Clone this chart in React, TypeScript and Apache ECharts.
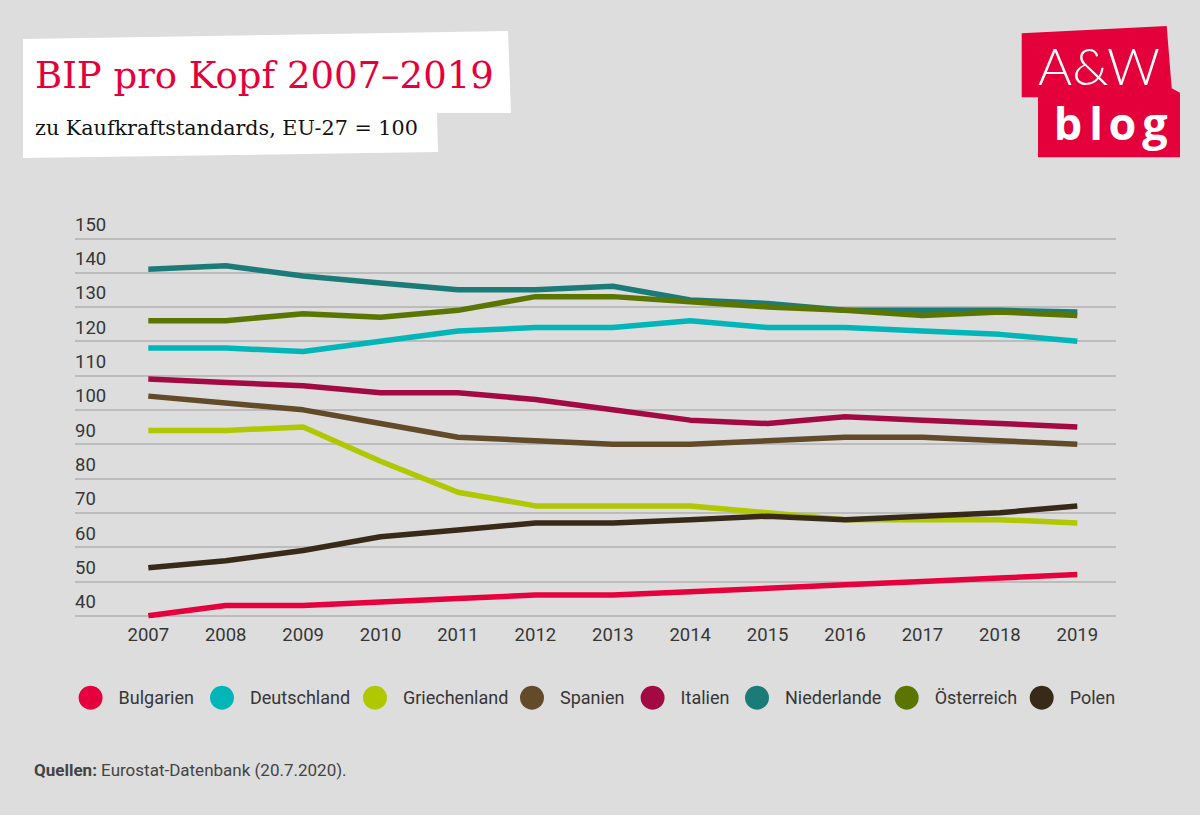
import React, { useEffect, useRef } from 'react';
import * as echarts from 'echarts';

const years = ['2007', '2008', '2009', '2010', '2011', '2012', '2013', '2014', '2015', '2016', '2017', '2018', '2019'];
const bulgarien = [40, 43, 43, 44, 45, 46, 46, 47, 48, 49, 50, 51, 52];
const deutschland = [118, 118, 117, 120, 123, 124, 124, 126, 124, 124, 123, 122, 120];
const griechenland = [94, 94, 95, 85, 76, 72, 72, 72, 70, 68, 68, 68, 67];
const spanien = [104, 102, 100, 96, 92, 91, 90, 90, 91, 92, 92, 91, 90];
const italien = [109, 108, 107, 105, 105, 103, 100, 97, 96, 98, 97, 96, 95];
const niederlande = [141, 142, 139, 137, 135, 135, 136, 132, 131, 129, 129, 129, 128.5];
const oesterreich = [126, 126, 128, 127, 129, 133, 133, 131.5, 130, 129, 127.5, 128.5, 127.5];
const polen = [54, 56, 59, 63, 65, 67, 67, 68, 69, 68, 69, 70, 72];

const seriesDefs = [
  { name: 'Bulgarien', data: bulgarien, color: '#e6003e' },
  { name: 'Deutschland', data: deutschland, color: '#00b6b9' },
  { name: 'Griechenland', data: griechenland, color: '#afc800' },
  { name: 'Spanien', data: spanien, color: '#634a28' },
  { name: 'Italien', data: italien, color: '#a30a43' },
  { name: 'Niederlande', data: niederlande, color: '#1b7b79' },
  { name: 'Österreich', data: oesterreich, color: '#5b7600' },
  { name: 'Polen', data: polen, color: '#382a19' },
];

const legendLefts = [78.6, 210, 363, 520, 640.6, 745, 894.7, 1029.7];

const SANS = "Roboto, 'Noto Sans', sans-serif";
const SERIF = "'DejaVu Serif', serif";
const TEXT = '#363636';

export default function App() {
  const ref = useRef<HTMLDivElement>(null);
  useEffect(() => {
    const chart = echarts.init(ref.current!, null, { renderer: 'svg' });
    const option: any = {
      animation: false,
      backgroundColor: '#dddddd',
      grid: [
        { left: 75, right: 84, top: 238.3, bottom: 199.3 },
        { left: 148.3, right: 122.7, top: 238.3, bottom: 199.3 },
      ],
      xAxis: [
        { gridIndex: 0, type: 'value', min: 0, max: 1, show: false },
        {
          gridIndex: 1,
          type: 'category',
          data: years,
          boundaryGap: false,
          axisLine: { show: false },
          axisTick: { show: false },
          splitLine: { show: false },
          axisLabel: { margin: 10, color: TEXT, fontSize: 18.5, fontFamily: SANS },
        },
      ],
      yAxis: [
        {
          gridIndex: 0,
          type: 'value',
          min: 40,
          max: 150,
          interval: 10,
          axisLine: { show: false },
          axisTick: { show: false },
          splitLine: { lineStyle: { color: '#bcbcbc', width: 2 } },
          axisLabel: {
            inside: true,
            margin: 0,
            align: 'left',
            verticalAlign: 'bottom',
            padding: [0, 0, 4, 0],
            color: TEXT,
            fontSize: 18.5,
            fontFamily: SANS,
          },
        },
        { gridIndex: 1, type: 'value', min: 40, max: 150, interval: 10, show: false },
      ],
      legend: seriesDefs.map((s, i) => ({
        data: [s.name],
        left: legendLefts[i],
        top: 685.7,
        padding: 0,
        itemWidth: 24,
        itemHeight: 24,
        icon: 'circle',
        textStyle: { color: TEXT, fontSize: 18, fontFamily: SANS, padding: [0, 0, 0, 11] },
      })),
      series: seriesDefs.map((s) => ({
        name: s.name,
        type: 'line',
        xAxisIndex: 1,
        yAxisIndex: 1,
        data: s.data,
        symbol: 'none',
        color: s.color,
        lineStyle: { width: 5.5, color: s.color, cap: 'butt' },
      })),
      graphic: [
        {
          type: 'polygon',
          shape: { points: [[23, 39], [508, 31], [511, 113], [437, 113], [438, 152], [23, 158]] },
          style: { fill: '#ffffff' },
        },
        {
          type: 'text',
          x: 35,
          y: 75,
          style: { text: 'BIP pro Kopf 2007–2019', fill: '#e4003a', fontFamily: SERIF, fontSize: 37, verticalAlign: 'middle' },
        },
        {
          type: 'text',
          x: 35,
          y: 128,
          style: { text: 'zu Kaufkraftstandards, EU-27 = 100', fill: '#111111', fontFamily: SERIF, fontSize: 20.7, verticalAlign: 'middle' },
        },
        {
          type: 'polygon',
          shape: {
            points: [[1021.7, 33.3], [1166.7, 26], [1171.7, 88.3], [1180, 92.7], [1180, 157.3], [1038, 157.3], [1038, 97.3], [1021.7, 97.3]],
          },
          style: { fill: '#e4003a' },
        },
        {
          type: 'text',
          x: 1099,
          y: 65,
          style: { text: 'A&W', fill: '#ffffff', fontFamily: 'Lato', fontWeight: 300, fontSize: 52, align: 'center', verticalAlign: 'middle' },
        },
        ...[['b', 1068], ['l', 1096], ['o', 1122.5], ['g', 1155]].map(([ch, x]) => ({
          type: 'text',
          x: x as number,
          y: 122.5,
          style: { text: ch as string, fill: '#ffffff', fontFamily: "'Open Sans', sans-serif", fontWeight: 'bold', fontSize: 45, align: 'center', verticalAlign: 'middle' },
        })),
        {
          type: 'text',
          x: 34,
          y: 770,
          style: {
            text: '{b|Quellen:} Eurostat-Datenbank (20.7.2020).',
            fill: '#444444',
            fontFamily: SANS,
            fontSize: 17,
            verticalAlign: 'middle',
            rich: { b: { fontWeight: 'bold', fontFamily: SANS, fontSize: 17, fill: '#444444' } },
          },
        },
      ],
    };
    chart.setOption(option);
    return () => chart.dispose();
  }, []);
  return <div ref={ref} style={{ position: 'fixed', left: 0, top: 0, width: 1200, height: 815 }} />;
}
